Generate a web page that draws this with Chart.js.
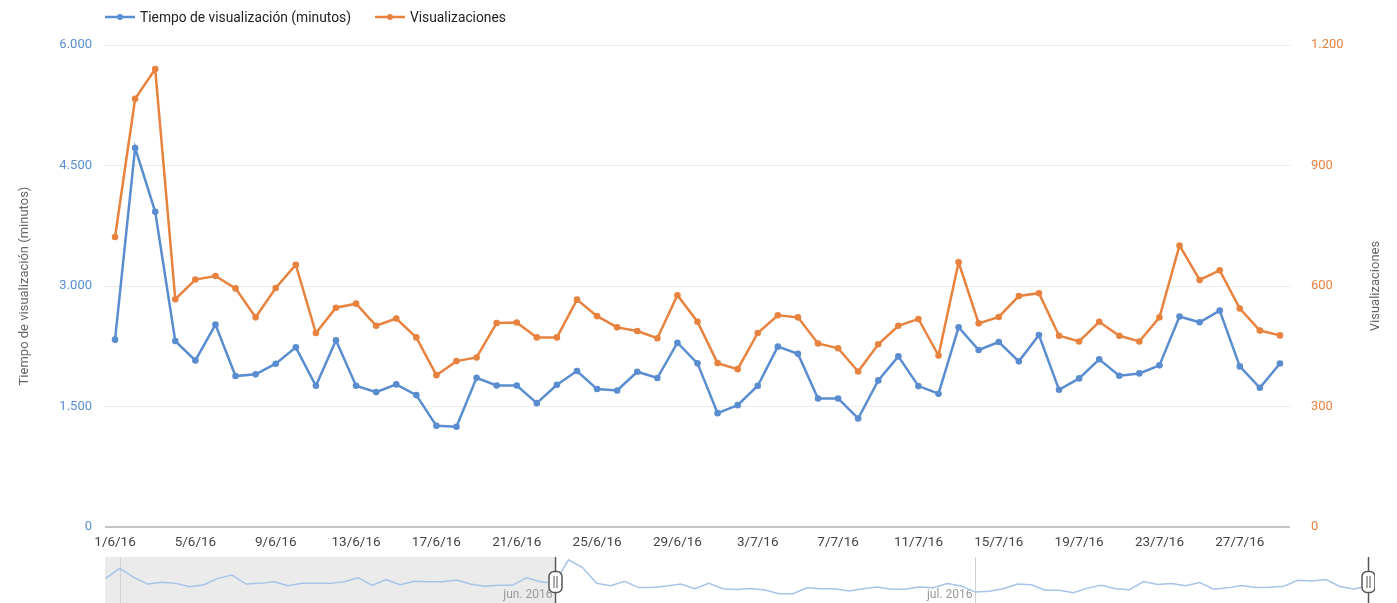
<!DOCTYPE html>
<html>
<head>
<meta charset="utf-8">
<script src="https://cdn.jsdelivr.net/npm/chart.js@4.4.1/dist/chart.umd.min.js"></script>
<style>
  body { margin: 0; background: #fff; font-family: Roboto, sans-serif; overflow: hidden; }
  #wrap { position: relative; width: 1397px; height: 603px; }
  #leyenda { position: absolute; left: 105px; top: 9px; font-size: 13.8px; color: #222; display: flex; z-index: 2; }
  .item { display: flex; align-items: center; margin-right: 24px; }
  .item svg { margin-right: 5px; }
  #principal { position: absolute; left: 0; top: 0; }
  #navegador { position: absolute; left: 105px; top: 557px; }
</style>
</head>
<body>
<div id="wrap">
  <div id="leyenda"></div>
  <canvas id="principal" width="1397" height="558"></canvas>
  <canvas id="navegador" width="1270" height="49"></canvas>
</div>
<script>
const fechas = [
  '1/6/16','2/6/16','3/6/16','4/6/16','5/6/16','6/6/16','7/6/16','8/6/16','9/6/16','10/6/16',
  '11/6/16','12/6/16','13/6/16','14/6/16','15/6/16','16/6/16','17/6/16','18/6/16','19/6/16','20/6/16',
  '21/6/16','22/6/16','23/6/16','24/6/16','25/6/16','26/6/16','27/6/16','28/6/16','29/6/16','30/6/16',
  '1/7/16','2/7/16','3/7/16','4/7/16','5/7/16','6/7/16','7/7/16','8/7/16','9/7/16','10/7/16',
  '11/7/16','12/7/16','13/7/16','14/7/16','15/7/16','16/7/16','17/7/16','18/7/16','19/7/16','20/7/16',
  '21/7/16','22/7/16','23/7/16','24/7/16','25/7/16','26/7/16','27/7/16','28/7/16','29/7/16'
];

// minutos vistos por dia
const tiempo = [
  2332, 4718, 3924, 2315, 2074, 2519, 1879, 1900, 2033, 2236,
  1758, 2324, 1758, 1679, 1775, 1642, 1259, 1247, 1858, 1762,
  1762, 1542, 1771, 1941, 1717, 1700, 1933, 1854, 2294, 2037,
  1417, 1517, 1758, 2245, 2157, 1600, 1600, 1351, 1825, 2124,
  1754, 1659, 2486, 2203, 2303, 2062, 2390, 1708, 1850, 2087,
  1883, 1912, 2012, 2619, 2548, 2694, 1999, 1733, 2036
];

const visualizaciones = [
  722, 1066, 1140, 567, 616, 625, 594, 522, 595, 653,
  483, 546, 556, 501, 519, 472, 378, 413, 422, 508,
  509, 472, 472, 566, 525, 497, 488, 470, 577, 511,
  408, 393, 483, 527, 522, 457, 445, 387, 455, 501,
  518, 427, 659, 507, 523, 575, 582, 476, 462, 511,
  476, 462, 522, 701, 615, 639, 544, 489, 477
];

// 30/4/16 - 31/5/16, solo para el navegador de abajo
const tiempoPrevio = [
  2818, 3835, 2920, 2238, 2411, 2309, 1974, 2177, 2818, 3154,
  2238, 2309, 2482, 2075, 2309, 2309, 2309, 2482, 2889, 2106,
  2686, 2177, 2513, 2482, 2482, 2645, 2238, 2004, 2106, 2106,
  2889, 2482
];

const navMesInicio = [1, 32, 62];
const navMeses = ['', 'jun. 2016', 'jul. 2016'];
const navSeleccion = [32, 90];

const azul = '#5a8dd0';
const naranja = '#e8823f';

function miles(v) {
  return String(v).replace(/\B(?=(\d{3})+(?!\d))/g, '.');
}

// leyenda en html
const leyenda = document.getElementById('leyenda');
[['Tiempo de visualización (minutos)', azul], ['Visualizaciones', naranja]].forEach(function (it) {
  const d = document.createElement('div');
  d.className = 'item';
  d.innerHTML = '<svg width="30" height="10"><line x1="0" y1="5" x2="30" y2="5" stroke="' + it[1] +
    '" stroke-width="2.5"/><circle cx="15" cy="5" r="3" fill="' + it[1] + '"/></svg><span>' + it[0] + '</span>';
  leyenda.appendChild(d);
});

const tituloDerecho = {
  id: 'tituloDerecho',
  afterDraw(chart) {
    const ctx = chart.ctx, a = chart.chartArea;
    ctx.save();
    ctx.translate(1376, (a.top + a.bottom) / 2);
    ctx.rotate(-Math.PI / 2);
    ctx.font = '13px Roboto';
    ctx.fillStyle = '#666';
    ctx.textAlign = 'center';
    ctx.textBaseline = 'middle';
    ctx.fillText('Visualizaciones', 0, 0);
    ctx.restore();
  }
};

Chart.defaults.font.family = 'Roboto';
Chart.defaults.font.size = 13;

new Chart(document.getElementById('principal'), {
  type: 'line',
  data: {
    labels: fechas,
    datasets: [
      {
        label: 'Tiempo de visualización (minutos)',
        data: tiempo,
        yAxisID: 'yT',
        borderColor: azul,
        backgroundColor: azul,
        borderWidth: 2.5,
        pointRadius: 3.3,
        pointBorderWidth: 0
      },
      {
        label: 'Visualizaciones',
        data: visualizaciones,
        yAxisID: 'yV',
        borderColor: naranja,
        backgroundColor: naranja,
        borderWidth: 2.5,
        pointRadius: 3.3,
        pointBorderWidth: 0
      }
    ]
  },
  options: {
    responsive: false,
    animation: false,
    layout: { padding: { top: 45, left: 0, right: 0, bottom: 0 } },
    plugins: { legend: { display: false }, tooltip: { enabled: false } },
    scales: {
      x: {
        offset: true,
        grid: { display: false },
        border: { display: false },
        afterFit: function (s) { s.height = 31; },
        ticks: {
          autoSkip: false,
          maxRotation: 0,
          padding: 0,
          color: '#444',
          font: { size: 13.5 },
          callback: function (v, i) { return i % 4 === 0 ? this.getLabelForValue(v) : ''; }
        }
      },
      yT: {
        position: 'left',
        min: 0,
        max: 6000,
        afterFit: function (s) { s.width = 105; },
        ticks: { stepSize: 1500, color: azul, padding: 13, callback: miles },
        grid: {
          drawTicks: false,
          color: function (c) { return c.tick.value === 0 ? '#c4c4c4' : '#ececec'; },
          lineWidth: function (c) { return c.tick.value === 0 ? 2 : 1; }
        },
        border: { display: false },
        title: {
          display: true,
          text: 'Tiempo de visualización (minutos)',
          color: '#666',
          padding: { top: 17, bottom: 0 }
        }
      },
      yV: {
        position: 'right',
        min: 0,
        max: 1200,
        afterFit: function (s) { s.width = 107; },
        ticks: { stepSize: 300, color: naranja, padding: 13, callback: miles },
        grid: { display: false },
        border: { display: false }
      }
    }
  },
  plugins: [tituloDerecho]
});

// navegador de rango
const fondoNav = {
  id: 'fondoNav',
  beforeDatasetsDraw(chart) {
    const ctx = chart.ctx, x = chart.scales.x, h = chart.height;
    ctx.save();
    ctx.fillStyle = '#ebebeb';
    ctx.fillRect(0, 0, x.getPixelForValue(navSeleccion[0]), h);
    ctx.strokeStyle = '#d2d2d2';
    ctx.lineWidth = 1;
    ctx.font = '12px Roboto';
    ctx.fillStyle = '#9a9a9a';
    ctx.textAlign = 'right';
    ctx.textBaseline = 'middle';
    navMesInicio.forEach(function (d, i) {
      const px = Math.round(x.getPixelForValue(d)) + 0.5;
      ctx.beginPath();
      ctx.moveTo(px, 0);
      ctx.lineTo(px, h);
      ctx.stroke();
      if (navMeses[i]) ctx.fillText(navMeses[i], px - 3, 38);
    });
    ctx.restore();
  },
  afterDatasetsDraw(chart) {
    const ctx = chart.ctx, x = chart.scales.x, h = chart.height;
    ctx.save();
    navSeleccion.forEach(function (d) {
      const px = Math.round(x.getPixelForValue(d)) + 0.5;
      ctx.strokeStyle = '#555';
      ctx.lineWidth = 1.5;
      ctx.beginPath();
      ctx.moveTo(px, 0);
      ctx.lineTo(px, h);
      ctx.stroke();
      ctx.fillStyle = '#fff';
      ctx.beginPath();
      ctx.roundRect(px - 6.5, 14.5, 13, 21, 5);
      ctx.fill();
      ctx.stroke();
      ctx.lineWidth = 1;
      ctx.beginPath();
      ctx.moveTo(px - 1.5, 19); ctx.lineTo(px - 1.5, 31);
      ctx.moveTo(px + 1.5, 19); ctx.lineTo(px + 1.5, 31);
      ctx.stroke();
    });
    ctx.restore();
  }
};

const navDatos = tiempoPrevio.concat(tiempo).map(function (v, i) { return { x: i, y: v }; });

new Chart(document.getElementById('navegador'), {
  type: 'line',
  data: {
    datasets: [{
      data: navDatos,
      borderColor: '#a8c3e8',
      borderWidth: 1.5,
      pointRadius: 0
    }]
  },
  options: {
    responsive: false,
    animation: false,
    layout: { padding: 0 },
    plugins: { legend: { display: false }, tooltip: { enabled: false } },
    scales: {
      x: { type: 'linear', display: false, min: -0.05, max: 90.5 },
      y: { display: false, min: 0, max: 5000 }
    }
  },
  plugins: [fondoNav]
});
</script>
</body>
</html>
